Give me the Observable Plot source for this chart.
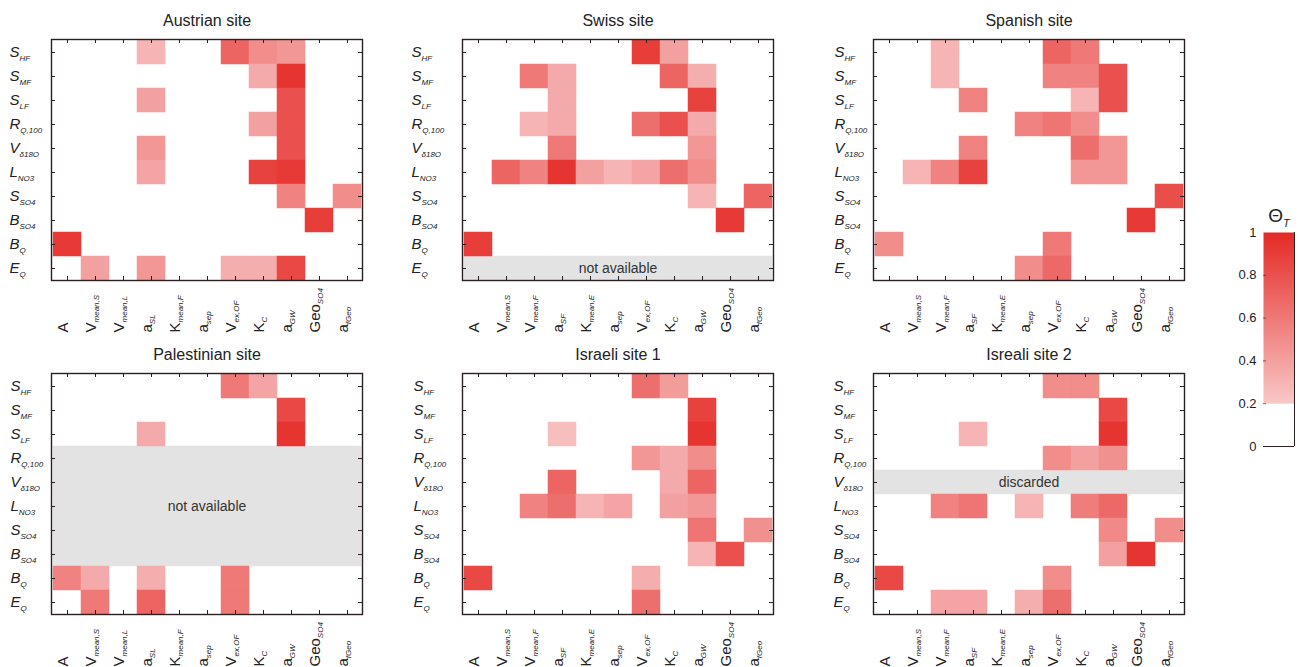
<!DOCTYPE html>
<html><head><meta charset="utf-8">
<script src="https://cdn.jsdelivr.net/npm/d3@7"></script>
<script src="https://cdn.jsdelivr.net/npm/@observablehq/plot@0.6"></script>
<style>
body{margin:0;background:#fff;font-family:"Liberation Sans",Arial,sans-serif;}
#root{position:relative;width:1298px;height:667px;overflow:hidden;background:#fff;}
#root svg{position:absolute;}
</style></head><body><div id="root"></div>
<script>
// ---------- data ----------
const rowLabels = ["S|HF","S|MF","S|LF","R|Q,100","V|δ18O","L|NO3","S|SO4","B|SO4","B|Q","E|Q"];
const colLabelsA = ["A","V|mean,S","V|mean,L","a|SL","K|mean,F","a|sep","V|ex,OF","K|C","a|GW","Geo|SO4","a|fGeo"];
const colLabelsB = ["A","V|mean,S","V|mean,F","a|SF","K|mean,E","a|sep","V|ex,OF","K|C","a|GW","Geo|SO4","a|fGeo"];
const titles = ["Austrian site","Swiss site","Spanish site","Palestinian site","Israeli site 1","Isreali site 2"];
const naRowsPerPanel = [[], [9], [], [3,4,5,6,7], [], [4]];
const naTexts = ["", "not available", "", "not available", "", "discarded"];
const colorbarTicks = [0, 0.2, 0.4, 0.6, 0.8, 1];
const colorbarTitle = "Θ|T";

const austrian = [
  [0,0,0,.3,0,0,.7,.5,.45,0,0],
  [0,0,0,0,0,0,0,.35,.95,0,0],
  [0,0,0,.4,0,0,0,0,.8,0,0],
  [0,0,0,0,0,0,0,.4,.8,0,0],
  [0,0,0,.45,0,0,0,0,.8,0,0],
  [0,0,0,.38,0,0,0,.88,.92,0,0],
  [0,0,0,0,0,0,0,0,.55,0,.5],
  [0,0,0,0,0,0,0,0,0,.9,0],
  [.92,0,0,0,0,0,0,0,0,0,0],
  [0,.4,0,.45,0,0,.33,.33,.85,0,0]
];
const swiss = [
  [0,0,0,0,0,0,.9,.4,0,0,0],
  [0,0,.6,.35,0,0,0,.7,.33,0,0],
  [0,0,0,.35,0,0,0,0,.88,0,0],
  [0,0,.3,.35,0,0,.65,.8,.35,0,0],
  [0,0,0,.6,0,0,0,0,.45,0,0],
  [0,.7,.55,.95,.4,.3,.38,.65,.5,0,0],
  [0,0,0,0,0,0,0,0,.3,0,.7],
  [0,0,0,0,0,0,0,0,0,.92,0],
  [.9,0,0,0,0,0,0,0,0,0,0],
  [0,0,0,0,0,0,0,0,0,0,0]
];
const spanish = [
  [0,0,.3,0,0,0,.7,.6,0,0,0],
  [0,0,.3,0,0,0,.55,.55,.8,0,0],
  [0,0,0,.55,0,0,0,.3,.8,0,0],
  [0,0,0,0,0,.55,.62,.5,0,0,0],
  [0,0,0,.55,0,0,0,.65,.45,0,0],
  [0,.3,.55,.88,0,0,0,.45,.45,0,0],
  [0,0,0,0,0,0,0,0,0,0,.82],
  [0,0,0,0,0,0,0,0,0,.92,0],
  [.5,0,0,0,0,0,.6,0,0,0,0],
  [0,0,0,0,0,.5,.68,0,0,0,0]
];
const palestinian = [
  [0,0,0,0,0,0,.6,.38,0,0,0],
  [0,0,0,0,0,0,0,0,.85,0,0],
  [0,0,0,.35,0,0,0,0,.95,0,0],
  [0,0,0,0,0,0,0,0,0,0,0],
  [0,0,0,0,0,0,0,0,0,0,0],
  [0,0,0,0,0,0,0,0,0,0,0],
  [0,0,0,0,0,0,0,0,0,0,0],
  [0,0,0,0,0,0,0,0,0,0,0],
  [.55,.35,0,.33,0,0,.6,0,0,0,0],
  [0,.6,0,.7,0,0,.6,0,0,0,0]
];
const israeli1 = [
  [0,0,0,0,0,0,.65,.42,0,0,0],
  [0,0,0,0,0,0,0,0,.88,0,0],
  [0,0,0,.25,0,0,0,0,.95,0,0],
  [0,0,0,0,0,0,.45,.35,.5,0,0],
  [0,0,0,.7,0,0,0,.35,.7,0,0],
  [0,0,.55,.65,.3,.38,0,.4,.45,0,0],
  [0,0,0,0,0,0,0,0,.62,0,.48],
  [0,0,0,0,0,0,0,0,.3,.8,0],
  [.85,0,0,0,0,0,.33,0,0,0,0],
  [0,0,0,0,0,0,.65,0,0,0,0]
];
const israeli2 = [
  [0,0,0,0,0,0,.5,.5,0,0,0],
  [0,0,0,0,0,0,0,0,.85,0,0],
  [0,0,0,.3,0,0,0,0,.95,0,0],
  [0,0,0,0,0,0,.5,.4,.48,0,0],
  [0,0,0,0,0,0,0,0,0,0,0],
  [0,0,.55,.62,0,.3,0,.58,.68,0,0],
  [0,0,0,0,0,0,0,0,.52,0,.5],
  [0,0,0,0,0,0,0,0,.4,.95,0],
  [.85,0,0,0,0,0,.5,0,0,0,0],
  [0,0,.38,.38,0,.33,.65,0,0,0,0]
];

// ---------- layout / style ----------
const panelValues = [austrian, swiss, spanish, palestinian, israeli1, israeli2];
const panelCols = [colLabelsA, colLabelsB, colLabelsB, colLabelsA, colLabelsB, colLabelsB];
const panelOrigin = [[51,39],[462,39],[873,39],[51,373],[462,373],[873,373]];
const labelDx = [-42,-51,-39,-41,-49,-40];
const PW = 311, PH = 241, ML = 55, MT = 40, MR = 8, MB = 55;
const FRAME = "#2b2020", TEXT = "#222", GREY = "#e3e3e3";
const LO = "#f8c8c8", HI = "#e52a26";
const FONT = "'Liberation Sans', Arial, sans-serif";
const ns = "http://www.w3.org/2000/svg";
const root = document.getElementById("root");

// turn "main|sub" label texts drawn by Plot into text with a subscript
function subscriptify(svg) {
  svg.querySelectorAll("text").forEach(t => {
    const content = t.textContent;
    if (!content.includes("|")) return;
    let style;
    if (rowLabels.includes(content)) style = {subSize: 8, subDy: 4, italicMain: true, italicSub: true};
    else if (content === colorbarTitle) style = {subSize: 11, subDy: 5, italicMain: false, italicSub: true};
    else style = {subSize: 8, subDy: 3, italicMain: false, italicSub: true};
    const [main, s] = content.split("|");
    while (t.firstChild) t.removeChild(t.firstChild);
    const a = document.createElementNS(ns, "tspan");
    a.textContent = main;
    a.setAttribute("font-style", style.italicMain ? "italic" : "normal");
    t.appendChild(a);
    const b = document.createElementNS(ns, "tspan");
    b.textContent = s;
    b.setAttribute("font-size", style.subSize);
    b.setAttribute("dy", style.subDy);
    b.setAttribute("font-style", style.italicSub ? "italic" : "normal");
    t.appendChild(b);
  });
}

panelValues.forEach((values, p) => {
  const cols = panelCols[p];
  const cells = [];
  values.forEach((row, r) => row.forEach((v, c) => { if (v > 0) cells.push({r, c, v}); }));
  const naRows = naRowsPerPanel[p];
  const naCells = naRows.flatMap(r => cols.map((_, c) => ({r, c})));
  const naCenter = naRows.length ? naRows[Math.floor(naRows.length / 2)] : null;
  const svg = Plot.plot({
    width: ML + PW + MR, height: MT + PH + MB,
    marginLeft: ML, marginTop: MT, marginRight: MR, marginBottom: MB,
    x: {type: "band", domain: d3.range(cols.length), padding: 0, axis: null},
    y: {type: "band", domain: d3.range(rowLabels.length), padding: 0, axis: null},
    color: {type: "linear", domain: [0.2, 1], range: [LO, HI], clamp: true},
    style: {fontFamily: FONT, background: "transparent", color: TEXT},
    marks: [
      Plot.cell(naCells, {x: "c", y: "r", fill: GREY, stroke: GREY, strokeWidth: 0.5, inset: 0}),
      Plot.cell(cells, {x: "c", y: "r", fill: "v", stroke: "v", strokeWidth: 0.5, inset: 0}),
      naCenter !== null ? Plot.text([naTexts[p]], {y: () => naCenter, text: d => d, frameAnchor: "middle", fontSize: 14, fill: "#333"}) : null,
      Plot.ruleX(d3.range(cols.length), {x: d => d, insetTop: PH - 4, stroke: FRAME}),
      Plot.ruleX(d3.range(cols.length), {x: d => d, insetBottom: PH - 4, stroke: FRAME}),
      Plot.ruleY(d3.range(rowLabels.length), {y: d => d, insetRight: PW - 4, stroke: FRAME}),
      Plot.ruleY(d3.range(rowLabels.length), {y: d => d, insetLeft: PW - 4, stroke: FRAME}),
      Plot.frame({stroke: FRAME, strokeWidth: 1.4}),
      Plot.text(rowLabels, {y: (d, i) => i, text: d => d, frameAnchor: "left", dx: labelDx[p], textAnchor: "start", fontSize: 15, fill: TEXT}),
      Plot.text(cols, {x: (d, i) => i, text: d => d, frameAnchor: "bottom", dy: 52, rotate: -90, textAnchor: "start", fontSize: 15, fill: TEXT}),
      Plot.text([titles[p]], {text: d => d, frameAnchor: "top", dy: -25, fontSize: 16, fill: TEXT})
    ]
  });
  subscriptify(svg);
  const [ox, oy] = panelOrigin[p];
  svg.style.left = (ox - ML) + "px";
  svg.style.top = (oy - MT) + "px";
  root.appendChild(svg);
});

// ---------- colorbar ----------
const CBW = 31, CBH = 214;
const cb = Plot.plot({
  width: 63 + CBW + 8, height: 42 + CBH + 14,
  marginLeft: 63, marginRight: 8, marginTop: 42, marginBottom: 14,
  x: {domain: [0, 1], axis: null},
  y: {domain: [0, 1], axis: null},
  color: {type: "linear", domain: [0.2, 1], range: [LO, HI], clamp: true},
  style: {fontFamily: FONT, background: "transparent", color: TEXT},
  marks: [
    Plot.raster({x1: 0, x2: 1, y1: 0.2, y2: 1, width: 2, height: 200, fill: (x, y) => y}),
    Plot.ruleY(colorbarTicks.slice(1, -1), {y: d => d, insetRight: CBW - 3, stroke: FRAME, strokeOpacity: 0.6}),
    Plot.ruleX([1], {stroke: FRAME}),
    Plot.ruleY([0], {stroke: FRAME}),
    Plot.text(colorbarTicks, {y: d => d, text: d => String(d), frameAnchor: "left", dx: -7, textAnchor: "end", fontSize: 13, fill: TEXT}),
    Plot.text([colorbarTitle], {text: d => d, frameAnchor: "top", dy: -24, fontSize: 19, fill: TEXT})
  ]
});
subscriptify(cb);
cb.style.left = "1200px";
cb.style.top = "190px";
root.appendChild(cb);
</script>
</body></html>
